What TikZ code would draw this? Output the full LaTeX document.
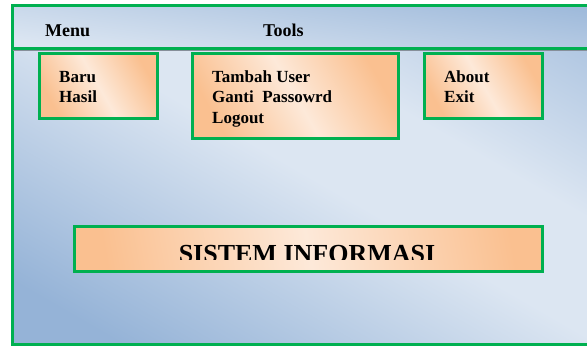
\documentclass[tikz,border=0pt]{standalone}
\usepackage{fontspec}
\setmainfont{Liberation Serif}
\definecolor{grn}{HTML}{00B050}
\definecolor{bgdark}{HTML}{95B3D7}
\definecolor{bglight}{HTML}{DCE6F2}
\definecolor{bgmid}{HTML}{B9CDE5}
\definecolor{org}{HTML}{FAC090}
\definecolor{orglight}{HTML}{FDE9D9}
\pgfdeclareverticalshading{bgsh}{100bp}{color(0bp)=(bgdark); color(22bp)=(bgdark); color(50bp)=(bglight); color(62bp)=(bglight); color(80bp)=(bgmid!70!bgdark); color(100bp)=(bgmid!70!bgdark)}
\begin{document}
\begin{tikzpicture}[x=1pt,y=-1pt,
  frame/.style={draw=grn,line width=2.5pt},
  obox/.style={frame,anchor=north west,inner sep=0pt,top color=org,bottom color=org,middle color=orglight,shading angle=-60},
  txt/.style={font=\bfseries\fontsize{17}{20}\selectfont,anchor=base west,inner sep=0pt},
  mtxt/.style={font=\bfseries\fontsize{18}{20}\selectfont,anchor=base west,inner sep=0pt}]
\useasboundingbox (0,0) rectangle (587,346);
\clip (0,0) rectangle (587,346);
% background window
\shade[shading=bgsh,shading angle=-30] (11,4) rectangle (600,343);
\node[frame,anchor=north west,minimum width=589pt,minimum height=339pt,inner sep=0pt] (win) at (11,4) {};
% shadow under the bar
\fill[gray!70!bgdark] (13,47) rectangle (600,51);
% top bar
\node[frame,anchor=north west,minimum width=589pt,minimum height=43pt,inner sep=0pt,top color=bgdark!85!bglight,bottom color=bglight,shading angle=-8] (bar) at (11,4) {};
\node[mtxt] (menu) at (45,36) {Menu};
\node[mtxt] (tools) at (263,36) {Tools};
% menu boxes
\node[obox,minimum width=118pt,minimum height=65pt] (b1) at (38,52) {};
\node[txt] (t1a) at (59,82) {Baru};
\node[txt] (t1b) at (59,102) {Hasil};
\node[obox,minimum width=206pt,minimum height=85pt] (b2) at (191,52) {};
\node[txt] (t2a) at (212,82) {Tambah User};
\node[txt] (t2b) at (212,102) {Ganti\ \ Passowrd};
\node[txt] (t2c) at (212,123) {Logout};
\node[obox,minimum width=118pt,minimum height=65pt] (b3) at (423,52) {};
\node[txt] (t3a) at (444,82) {About};
\node[txt] (t3b) at (444,102) {Exit};
% title box
\node[obox,minimum width=468pt,minimum height=45pt,shading angle=-80] (b4) at (73,225) {};
\begin{scope}
\clip (73,225) rectangle (542,259);
\node[font=\bfseries\fontsize{26}{28}\selectfont,anchor=base,inner sep=0pt] (title) at (307,262) {SISTEM INFORMASI};
\end{scope}
\end{tikzpicture}
\end{document}
